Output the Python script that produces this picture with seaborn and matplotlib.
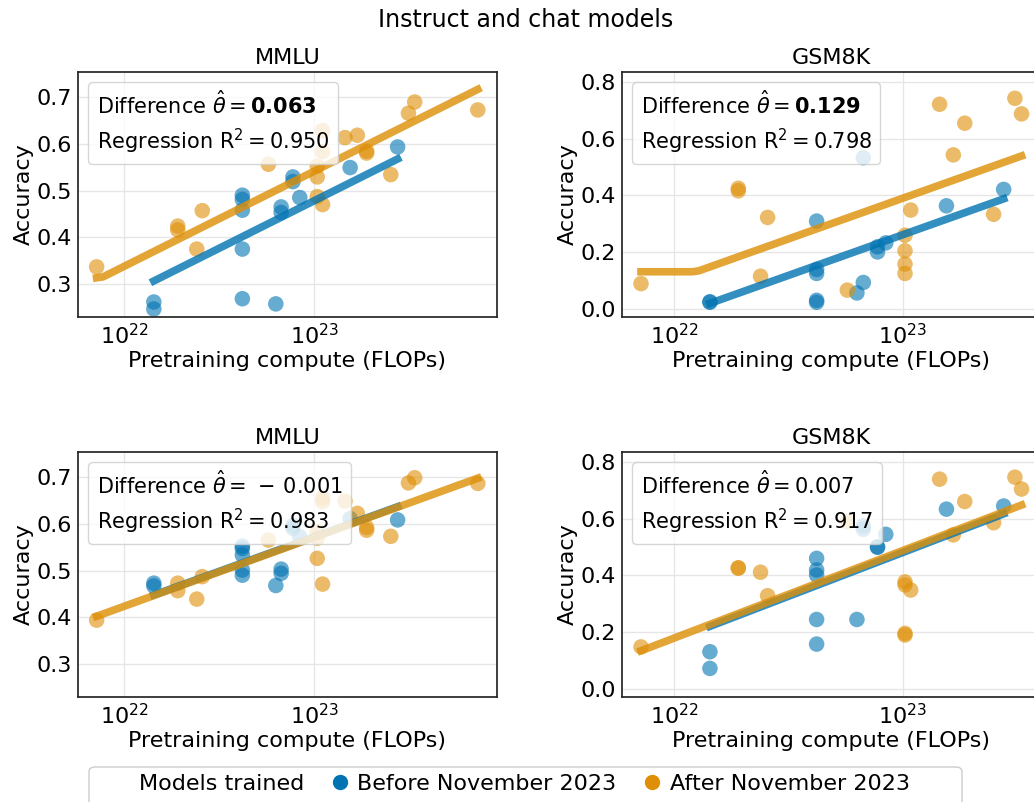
import numpy as np
import pandas as pd
import matplotlib
matplotlib.use("Agg")
import matplotlib.pyplot as plt
from matplotlib.lines import Line2D
from matplotlib.patches import FancyBboxPatch
import seaborn as sns

# ---- data: log10 pretraining compute and accuracies ----
periods = ["Before November 2023", "After November 2023"]

before_logc = [22.157, 22.157, 22.623, 22.623, 22.623, 22.623, 22.623, 22.799,
               22.827, 22.827, 22.889, 22.889, 22.925, 23.19, 23.44]

mmlu_after_logc = [21.856, 22.283, 22.283, 22.383, 22.412, 22.76, 23.017, 23.017,
                   23.017, 23.045, 23.045, 23.045, 23.163, 23.228, 23.277, 23.277,
                   23.404, 23.497, 23.53, 23.862]
gsm_after_logc = [21.856, 22.281, 22.281, 22.378, 22.409, 22.757, 23.009, 23.009,
                  23.009, 23.009, 23.034, 23.16, 23.22, 23.27, 23.396, 23.489, 23.518]

# MMLU accuracy, as evaluated (top) and after fine-tuning on the test task (bottom)
mmlu_before_raw = [0.262, 0.247, 0.490, 0.481, 0.458, 0.375, 0.269, 0.258,
                   0.465, 0.453, 0.529, 0.519, 0.485, 0.549, 0.593]
mmlu_after_raw = [0.337, 0.424, 0.416, 0.375, 0.457, 0.556, 0.552, 0.529,
                  0.487, 0.628, 0.583, 0.470, 0.613, 0.618, 0.584, 0.580,
                  0.534, 0.665, 0.689, 0.672]
mmlu_before_adj = [0.473, 0.467, 0.552, 0.547, 0.533, 0.501, 0.490, 0.468,
                   0.503, 0.494, 0.596, 0.590, 0.572, 0.611, 0.608]
mmlu_after_adj = [0.394, 0.473, 0.457, 0.439, 0.487, 0.565, 0.583, 0.569,
                  0.526, 0.655, 0.647, 0.471, 0.648, 0.622, 0.592, 0.586,
                  0.573, 0.687, 0.698, 0.686]

# GSM8K accuracy
gsm_before_raw = [0.024, 0.022, 0.309, 0.138, 0.124, 0.029, 0.022, 0.055,
                  0.092, 0.533, 0.218, 0.200, 0.232, 0.363, 0.421]
gsm_after_raw = [0.088, 0.425, 0.416, 0.114, 0.322, 0.065, 0.259, 0.204,
                 0.157, 0.124, 0.348, 0.722, 0.543, 0.655, 0.333, 0.743, 0.688]
gsm_before_adj = [0.130, 0.071, 0.460, 0.419, 0.401, 0.244, 0.157, 0.244,
                  0.575, 0.563, 0.501, 0.499, 0.545, 0.634, 0.645]
gsm_after_adj = [0.147, 0.427, 0.425, 0.411, 0.328, 0.590, 0.377, 0.366,
                 0.195, 0.189, 0.348, 0.740, 0.543, 0.661, 0.586, 0.747, 0.705]

# fitted regressions: acc = base + theta*[after] + slope*(max(logC, knot) - 22)
panel_bench = ["MMLU", "GSM8K", "MMLU", "GSM8K"]
fit_slope = [0.203, 0.288, 0.147, 0.310]
fit_base = [0.275, -0.027, 0.4245, 0.171]
fit_theta = [0.063, 0.129, -0.001, 0.007]
fit_knot = [21.88, 22.097, None, None]
fit_r2 = [0.950, 0.798, 0.983, 0.917]
theta_bold = [True, True, False, False]

mmlu_yticks = [0.3, 0.4, 0.5, 0.6, 0.7]
gsm_yticks = [0.0, 0.2, 0.4, 0.6, 0.8]

# ---- styling ----
sns.set_theme(style="whitegrid", rc={
    "axes.edgecolor": "0.15",
    "axes.linewidth": 1.25,
    "grid.color": "0.9",
    "text.color": "black",
    "axes.labelcolor": "black",
    "xtick.color": "black",
    "ytick.color": "black",
    "xtick.major.size": 0,
    "ytick.major.size": 0,
    "xtick.major.pad": 4.0,
    "ytick.major.pad": 4.2,
    "axes.labelpad": 2.0,
    "font.size": 16,
    "axes.titlesize": 16,
    "axes.labelsize": 16,
    "xtick.labelsize": 16,
    "ytick.labelsize": 16,
    "legend.fontsize": 16,
})
plt.rcParams["font.family"] = ["DejaVu Sans"]

palette = sns.color_palette("colorblind")
colors = {periods[0]: palette[0], periods[1]: palette[1]}

W, H = 1034, 802
fig = plt.figure(figsize=(W / 100, H / 100), dpi=100)


def add_axes(left, top, right, bottom):
    return fig.add_axes([left / W, 1 - bottom / H, (right - left) / W, (bottom - top) / H])


boxes = [(78, 72, 497, 317), (622, 72, 1041, 317),
         (78, 452, 497, 697), (622, 452, 1041, 697)]

panel_data = [
    (before_logc, mmlu_before_raw, mmlu_after_logc, mmlu_after_raw),
    (before_logc, gsm_before_raw, gsm_after_logc, gsm_after_raw),
    (before_logc, mmlu_before_adj, mmlu_after_logc, mmlu_after_adj),
    (before_logc, gsm_before_adj, gsm_after_logc, gsm_after_adj),
]

for i, box in enumerate(boxes):
    ax = add_axes(*box)
    bx, by, axx, ay = panel_data[i]
    pts = pd.DataFrame({
        "flops": 10 ** np.concatenate([bx, axx]),
        "acc": np.concatenate([by, ay]),
        "period": [periods[0]] * len(bx) + [periods[1]] * len(axx),
    })
    sns.scatterplot(data=pts, x="flops", y="acc", hue="period", hue_order=periods,
                    palette=colors, s=125, alpha=0.6, linewidth=0, legend=False,
                    ax=ax, zorder=2)

    rows = []
    for g, (lx, shift) in enumerate([(bx, 0.0), (axx, fit_theta[i])]):
        xs = np.linspace(min(lx), max(lx), 60)
        xe = xs if fit_knot[i] is None else np.maximum(xs, fit_knot[i])
        ys = fit_base[i] + shift + fit_slope[i] * (xe - 22)
        rows.append(pd.DataFrame({"flops": 10 ** xs, "acc": ys, "period": periods[g]}))
    lines = pd.concat(rows, ignore_index=True)
    sns.lineplot(data=lines, x="flops", y="acc", hue="period", hue_order=periods,
                 palette=colors, estimator=None, sort=True, lw=5.5, alpha=0.8,
                 solid_capstyle="projecting", legend=False, ax=ax, zorder=3)

    ax.set_xscale("log")
    if panel_bench[i] == "MMLU":
        ax.set_xlim(10 ** 21.758, 10 ** 23.963)
        ax.set_ylim(0.23, 0.753)
        ax.set_yticks(mmlu_yticks)
    else:
        ax.set_xlim(10 ** 21.773, 10 ** 23.603)
        ax.set_ylim(-0.03, 0.836)
        ax.set_yticks(gsm_yticks)
    ax.minorticks_off()
    ax.grid(True, which="major")
    ax.set_title(panel_bench[i])
    ax.set_xlabel("Pretraining compute (FLOPs)")
    ax.set_ylabel("Accuracy")

    theta = fit_theta[i]
    if theta < 0:
        val = r"\,-\,%.3f" % abs(theta)
    else:
        val = "%.3f" % theta
    if theta_bold[i]:
        lab1 = r"Difference $\hat{\theta}=\mathbf{%s}$" % val
    else:
        lab1 = r"Difference $\hat{\theta}=%s$" % val
    lab2 = r"Regression R$^2=%.3f$" % fit_r2[i]
    blank = Line2D([], [], linestyle="none")
    ax.legend([blank, blank], [lab1, lab2], loc="upper left", handlelength=0,
              handletextpad=0, frameon=True, framealpha=0.8, edgecolor="0.8",
              fancybox=True, fontsize=15, labelspacing=0.4)

fig.text(526 / W, 1 - 20 / H, "Instruct and chat models", ha="center", va="center",
         fontsize=17)

# shared legend along the bottom
frame = FancyBboxPatch((89 / W, 1 - 840 / H), 873 / W, (840 - 767) / H,
                       boxstyle="round,pad=0,rounding_size=0.006",
                       transform=fig.transFigure, facecolor="white",
                       edgecolor="0.8", lw=1.0, zorder=0)
fig.add_artist(frame)
leg_handles = [Line2D([], [], linestyle="none"),
               Line2D([], [], marker="o", linestyle="none", color=palette[0], markersize=10),
               Line2D([], [], marker="o", linestyle="none", color=palette[1], markersize=10)]
fig.legend(leg_handles, ["Models trained"] + periods, loc="center",
           bbox_to_anchor=(511 / W, 1 - 784 / H), ncol=3, frameon=False,
           handlelength=0.8, handletextpad=0.4, columnspacing=1.2, fontsize=16)

fig.savefig("out.png", dpi=100)
